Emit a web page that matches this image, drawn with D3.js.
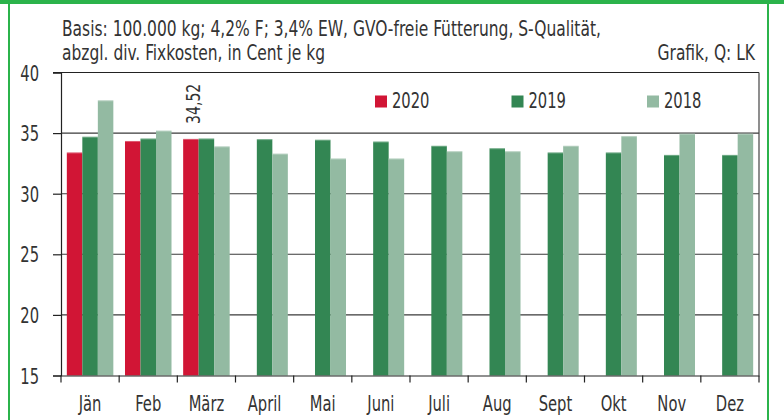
<!DOCTYPE html>
<html>
<head>
<meta charset="utf-8">
<script src="https://cdn.jsdelivr.net/npm/d3@7"></script>
<style>
  html, body { margin: 0; padding: 0; background: #fff; }
  svg { display: block; }
  text { font-family: 'Liberation Sans Narrow', 'Arial Narrow', 'DejaVu Sans Condensed', sans-serif; fill: #333; }
</style>
</head>
<body>
<svg id="chart" width="784" height="420"></svg>
<script>
const months = ["Jän","Feb","März","April","Mai","Juni","Juli","Aug","Sept","Okt","Nov","Dez"];
const seriesNames = ["2020","2019","2018"];
const values2020 = [33.4, 34.35, 34.52, null, null, null, null, null, null, null, null, null];
const values2019 = [34.7, 34.55, 34.55, 34.5, 34.45, 34.3, 33.95, 33.75, 33.4, 33.4, 33.2, 33.2];
const values2018 = [37.7, 35.2, 33.9, 33.3, 32.9, 32.9, 33.5, 33.5, 33.95, 34.75, 34.95, 34.95];
const yTicks = [15, 20, 25, 30, 35, 40];
const titleLines = ["Basis: 100.000 kg; 4,2% F; 3,4% EW, GVO-freie Fütterung, S-Qualität,",
                    "abzgl. div. Fixkosten, in Cent je kg"];
const sourceText = "Grafik, Q: LK";
const annotation = { month: "März", series: "2020", label: "34,52" };

const colors = { "2020": "#d11535", "2019": "#338653", "2018": "#93baa2" };
const seriesValues = { "2020": values2020, "2019": values2019, "2018": values2018 };

const svg = d3.select("#chart");
const mLeft = 61, mRight = 759, mTop = 72.5, mBottom = 375.5;
const FONT = "'Liberation Sans Narrow', 'Arial Narrow', 'DejaVu Sans Condensed', sans-serif";
const KT = 0.82;   // horizontal condensing for words
const KN = 0.78;   // horizontal condensing for numbers

function squeeze(sel, k) {
  sel.each(function () {
    const t = d3.select(this);
    const xv = +t.attr("x") || 0;
    const base = t.attr("data-base") || "";
    t.attr("x", xv / k).attr("transform", `${base} scale(${k},1)`);
  });
}

// frame
svg.append("rect").attr("x", 0).attr("y", 0).attr("width", 784).attr("height", 4).attr("fill", "#2bb34b");
svg.append("rect").attr("x", 8).attr("y", 0).attr("width", 2).attr("height", 420).attr("fill", "#2bb34b");
svg.append("rect").attr("x", 767).attr("y", 0).attr("width", 2).attr("height", 420).attr("fill", "#2bb34b");

const x = d3.scaleBand().domain(months).range([mLeft, mRight]).padding(0);
const xs = d3.scaleBand().domain(seriesNames).range([0, x.bandwidth()]).paddingInner(0).paddingOuter(0.376);
const y = d3.scaleLinear().domain([15, 40]).range([mBottom, mTop]);

// gridlines
svg.append("g").selectAll("line").data(yTicks.filter(t => t > 15 && t < 40)).join("line")
  .attr("x1", mLeft).attr("x2", mRight).attr("y1", d => y(d)).attr("y2", d => y(d))
  .attr("stroke", "#3a3a3a").attr("stroke-width", 1.1);

// bars
const rows = [];
months.forEach((m, i) => seriesNames.forEach(s => {
  const v = seriesValues[s][i];
  if (v != null) rows.push({ m, s, v });
}));
svg.append("g").selectAll("rect").data(rows).join("rect")
  .attr("x", d => x(d.m) + xs(d.s))
  .attr("width", xs.bandwidth())
  .attr("y", d => y(d.v))
  .attr("height", d => y(15) - y(d.v))
  .attr("fill", d => colors[d.s]);
svg.append("g").selectAll("line").data(rows).join("line")
  .attr("x1", d => x(d.m) + xs(d.s)).attr("x2", d => x(d.m) + xs(d.s) + xs.bandwidth())
  .attr("y1", d => y(d.v) + 0.5).attr("y2", d => y(d.v) + 0.5)
  .attr("stroke", "#fff").attr("stroke-opacity", 0.3).attr("stroke-width", 1);

// top and right border
svg.append("line").attr("x1", mLeft - 8).attr("x2", mRight).attr("y1", mTop).attr("y2", mTop).attr("stroke", "#222").attr("stroke-width", 1.2);
svg.append("line").attr("x1", mRight).attr("x2", mRight).attr("y1", mTop).attr("y2", mBottom).attr("stroke", "#444").attr("stroke-width", 1.2);

// y axis
const yAxis = d3.axisLeft(y).tickValues(yTicks).tickSize(8).tickPadding(14).tickFormat(d3.format("d"));
const gy = svg.append("g").attr("transform", `translate(${mLeft},0)`).call(yAxis);
gy.select(".domain").attr("stroke", "#222").attr("stroke-width", 1.2);
gy.selectAll(".tick line").attr("stroke", "#222").attr("stroke-width", 1.2);
gy.selectAll(".tick text").attr("font-size", 21).attr("fill", "#333").attr("font-family", FONT)
  .attr("dy", "0.36em").call(squeeze, KN);

// x axis with ticks at band boundaries
const xAxis = d3.axisBottom(x).tickSize(0).tickPadding(21);
const gx = svg.append("g").attr("transform", `translate(0,${mBottom})`).call(xAxis);
gx.select(".domain").attr("stroke", "#222").attr("stroke-width", 1.2);
gx.selectAll(".tick text").attr("font-size", 21).attr("fill", "#333").attr("font-family", FONT).call(squeeze, KN);
const bounds = months.map(m => x(m)).concat([x(months[months.length - 1]) + x.bandwidth()]);
svg.append("g").selectAll("line").data(bounds).join("line")
  .attr("x1", d => d).attr("x2", d => d).attr("y1", mBottom).attr("y2", mBottom + 7)
  .attr("stroke", "#222").attr("stroke-width", 1.2);

// title
svg.append("g").selectAll("text").data(titleLines).join("text")
  .attr("x", 62).attr("y", (d, i) => 36 + i * 24)
  .attr("font-size", 21).attr("fill", "#333").text(d => d).call(squeeze, KT);
svg.append("text").attr("x", 755).attr("y", 60).attr("text-anchor", "end")
  .attr("font-size", 21).attr("fill", "#333").text(sourceText).call(squeeze, KT);

// legend
const legendX = { "2020": 375, "2019": 511.5, "2018": 647 };
const lg = svg.append("g").selectAll("g").data(seriesNames).join("g")
  .attr("transform", d => `translate(${legendX[d]},95.5)`);
lg.append("rect").attr("width", 12).attr("height", 12).attr("fill", d => colors[d]);
lg.append("text").attr("x", 17).attr("y", 12.8).attr("font-size", 21).attr("fill", "#333").text(d => d).call(squeeze, KN);

// annotation
const ai = months.indexOf(annotation.month);
const ax = x(annotation.month) + xs(annotation.series) + xs.bandwidth() / 2 + 9;
const ay = y(seriesValues[annotation.series][ai]) - 15;
svg.append("text").attr("data-base", `translate(${ax},${ay}) rotate(-90)`)
  .attr("font-size", 20).attr("fill", "#333").text(annotation.label).call(squeeze, KN);
</script>
</body>
</html>
